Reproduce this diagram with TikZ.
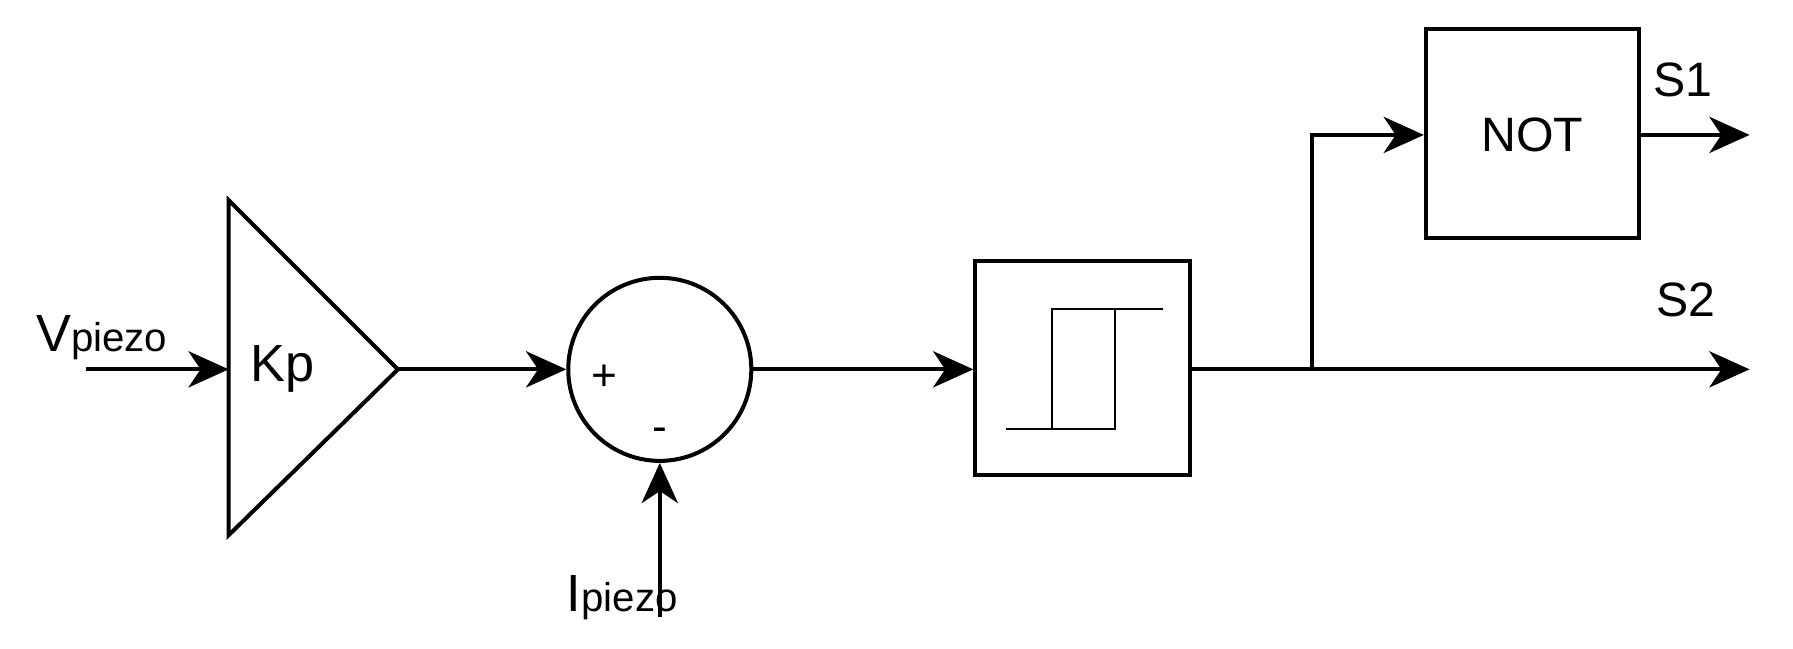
\documentclass[tikz,border=0pt]{standalone}
\usepackage{fontspec}
\setmainfont{Liberation Sans}
\usetikzlibrary{arrows.meta}
\begin{document}
\begin{tikzpicture}[x=0.01cm,y=-0.01cm,line width=1pt,
  arr/.style={-{Stealth[length=10pt,width=9pt,inset=3pt]}},
  lbl/.style={font=\fontsize{11}{13}\selectfont,inner sep=0pt}]
\useasboundingbox (0,0) rectangle (1568,567);
% amplifier
\draw (200,175) -- (348,323) -- (200,468) -- cycle;
\node[lbl,font=\fontsize{13}{15}\selectfont] (kp) at (247,323) {Kp};
\coordinate (ampin) at (200,323);
\coordinate (ampout) at (348,323);
\coordinate (vin) at (75,323);
\node[lbl,anchor=base west] (vlab) at (30,307) {\fontsize{13}{15}\selectfont V\fontsize{10}{12}\selectfont piezo};
\draw[arr] (vin) -- (ampin);
% summer
\node[draw,circle,inner sep=0pt,minimum size=1.6cm] (sum) at (577,323) {};
\node[lbl] (plus) at (529,330) {+};
\node[lbl] (minus) at (577,380) {-};
\draw[arr] (ampout) -- (sum.west);
\coordinate (iin) at (577,540);
\draw[arr] (iin) -- (sum.south);
\node[lbl,anchor=base west] (ilab) at (494,535) {\fontsize{13}{15}\selectfont I\fontsize{10}{12}\selectfont piezo};
% hysteresis box
\node[draw,minimum width=1.88cm,minimum height=1.87cm,inner sep=0pt] (hyst) at (947,321.5) {};
\draw[line width=0.6pt] (880,375) -- (975,375) -- (975,270) (1017,270) -- (920,270) -- (920,375);
\draw[arr] (sum.east) -- (hyst.west |- sum.east);
% branch
\coordinate (br) at (1147,323);
\coordinate (s2) at (1530,323);
\draw[arr] (hyst.east |- s2) -- (s2);
\node[draw,minimum width=1.86cm,minimum height=1.83cm,inner sep=0pt] (not) at (1340,116.5) {};
\node[lbl,font=\fontsize{12}{14}\selectfont] (nottxt) at (1340,118) {NOT};
\coordinate (s1) at (1530,118);
\draw[arr] (br) |- (not.west |- s1);
\draw[arr] (not.east |- s1) -- (s1);
\node[lbl,font=\fontsize{12}{14}\selectfont] (s1lab) at (1472,70) {S1};
\node[lbl,font=\fontsize{12}{14}\selectfont] (s2lab) at (1474,262) {S2};
\end{tikzpicture}
\end{document}
